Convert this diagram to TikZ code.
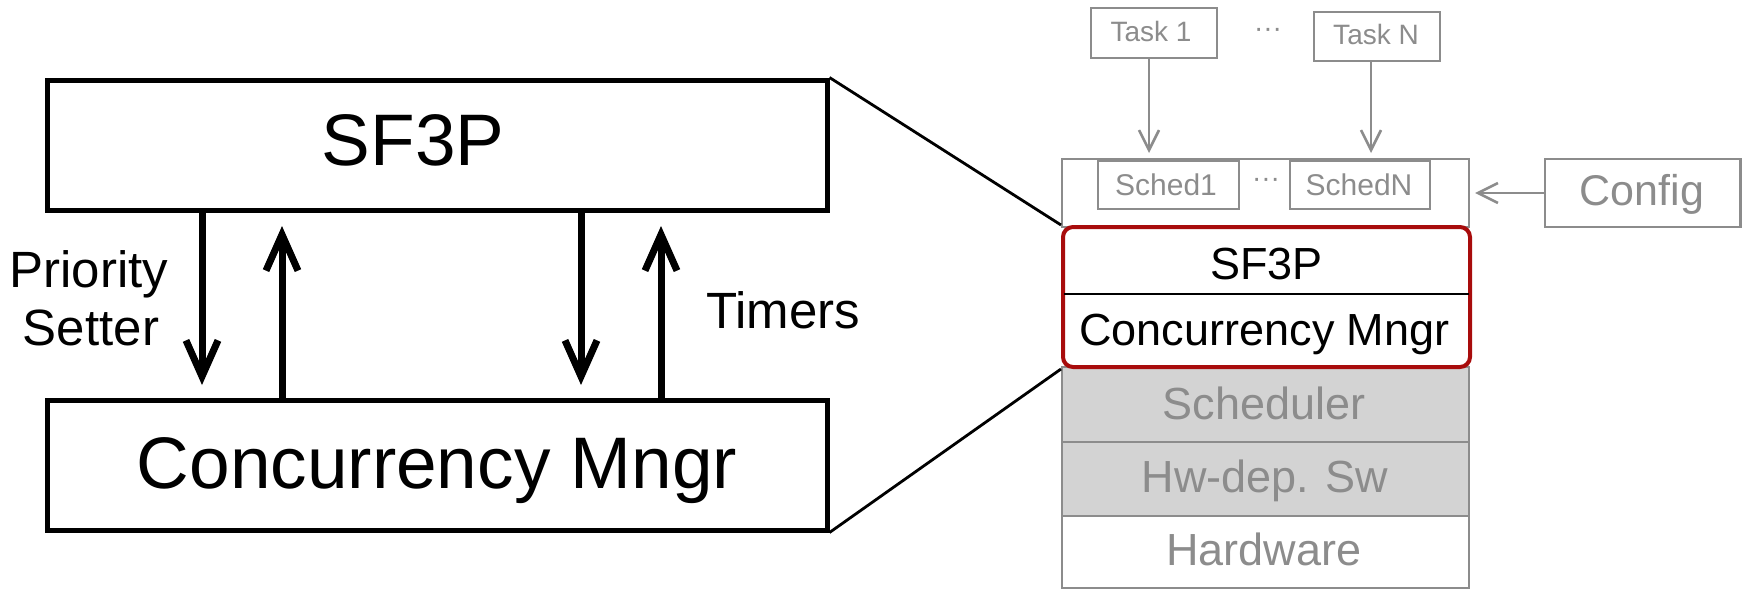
\documentclass[tikz,border=0pt]{standalone}
\usepackage{fontspec}
\setmainfont{Liberation Sans}
\usetikzlibrary{arrows.meta}
\definecolor{lgray}{RGB}{140,140,140}
\definecolor{fillgray}{RGB}{211,211,211}
\definecolor{darkred}{RGB}{168,12,12}
\begin{document}
\begin{tikzpicture}[x=0.5pt,y=-0.5pt,
  bigbox/.style={draw=black, line width=2.5pt, minimum width=390pt, minimum height=65pt, inner sep=0pt},
  bigtxt/.style={font=\fontsize{36.5}{40}\selectfont, anchor=base, inner sep=0pt},
  lbl/.style={font=\fontsize{25.5}{29}\selectfont, anchor=base, inner sep=0pt},
  bigarr/.style={line width=3.5pt, -{Straight Barb[length=18pt,width=16pt]}},
  conn/.style={line width=1.4pt},
  layer/.style={draw=lgray, line width=1.3pt, minimum width=203.5pt, inner sep=0pt},
  redbox/.style={draw=darkred, line width=2pt, fill=white, rounded corners=5pt, minimum width=203.5pt, minimum height=70pt, inner sep=0pt},
  stxt/.style={font=\fontsize{22.5}{26}\selectfont, anchor=base, inner sep=0pt},
  gbox/.style={draw=lgray, line width=1.3pt, inner sep=0pt},
  smalltxt/.style={font=\fontsize{15}{18}\selectfont, text=lgray, anchor=base, inner sep=0pt},
  tasktxt/.style={font=\fontsize{14}{17}\selectfont, text=lgray, anchor=base, inner sep=0pt},
  dots/.style={font=\fontsize{14}{17}\selectfont, text=lgray, inner sep=0pt},
  garr/.style={draw=lgray, line width=1.3pt, -{Straight Barb[length=10pt,width=10pt]}}
]
\useasboundingbox (0,0) rectangle (1742,590);

% ---------- left part ----------
\node[bigbox] (sf) at (437,145) {};
\node[bigbox] (cm) at (437,465) {};
\node[bigtxt] (sft) at (413,165) {SF3P};
\node[bigtxt] (cmt) at (437,488) {Concurrency Mngr};
\node[lbl] (pr) at (89,287) {Priority};
\node[lbl] (se) at (91,345) {Setter};
\node[lbl] (ti) at (783,328) {Timers};

\coordinate (d1s) at (202,210); \coordinate (d1e) at (202,385);
\coordinate (u1s) at (282,400); \coordinate (u1e) at (282,226);
\coordinate (d2s) at (581,210); \coordinate (d2e) at (581,385);
\coordinate (u2s) at (661,400); \coordinate (u2e) at (661,226);
\draw[bigarr] (d1s) -- (d1e);
\draw[bigarr] (u1s) -- (u1e);
\draw[bigarr] (d2s) -- (d2e);
\draw[bigarr] (u2s) -- (u2e);

% ---------- right stack ----------
\node[layer, minimum height=34pt] (top) at (1265.5,193) {};
\node[layer, fill=fillgray, minimum height=37.5pt] (sch) at (1265.5,404.5) {};
\node[layer, fill=fillgray, minimum height=37pt] (hw) at (1265.5,479) {};
\node[layer, minimum height=36pt] (hwr) at (1265.5,552) {};
\node[redbox] (red) at (1266.5,297) {};
\coordinate (dvl) at (1064,294); \coordinate (dvr) at (1469,294);
\draw[line width=1.3pt] (dvl) -- (dvr);

\node[stxt] (rsf) at (1266.5,279) {SF3P};
\node[stxt] (rcm) at (1264.5,345) {Concurrency Mngr};
\node[stxt, text=lgray] (scht) at (1264,419) {Scheduler};
\node[stxt, text=lgray] (hwt) at (1265,492.7) {Hw-dep. Sw};
\node[stxt, text=lgray] (hwrt) at (1264,565) {Hardware};

% scheduler slots
\node[gbox, minimum width=70.5pt, minimum height=24pt] (s1) at (1168.5,185) {};
\node[gbox, minimum width=70pt, minimum height=24pt] (sn) at (1360,185) {};
\node[smalltxt] (s1t) at (1166,195) {Sched1};
\node[smalltxt] (snt) at (1359,195) {SchedN};
\node[dots] (sdots) at (1266,183) {···};

% tasks
\node[gbox, minimum width=63pt, minimum height=25pt] (t1) at (1154,33) {};
\node[gbox, minimum width=63pt, minimum height=24.5pt] (tn) at (1377,36.5) {};
\node[tasktxt] (t1t) at (1151,41.7) {Task 1};
\node[tasktxt] (tnt) at (1376,44.3) {Task N};
\node[dots] (tdots) at (1268,33) {···};

\coordinate (a1s) at (1149,58); \coordinate (a1e) at (1149,153);
\coordinate (ans) at (1371,61); \coordinate (ane) at (1371,153);
\draw[garr] (a1s) -- (a1e);
\draw[garr] (ans) -- (ane);

% config
\node[gbox, minimum width=97.75pt, minimum height=34pt] (cfg) at (1642.75,193) {};
\node[font=\fontsize{21.5}{25}\selectfont, text=lgray, anchor=base, inner sep=0pt] (cfgt) at (1642,205) {Config};
\coordinate (cfe) at (1475,193);
\draw[garr] (cfg.west) -- (cfe);

% zoom lines
\draw[conn] (sf.north east) -- (red.north west);
\draw[conn] (cm.south east) -- (red.south west);
\end{tikzpicture}
\end{document}
